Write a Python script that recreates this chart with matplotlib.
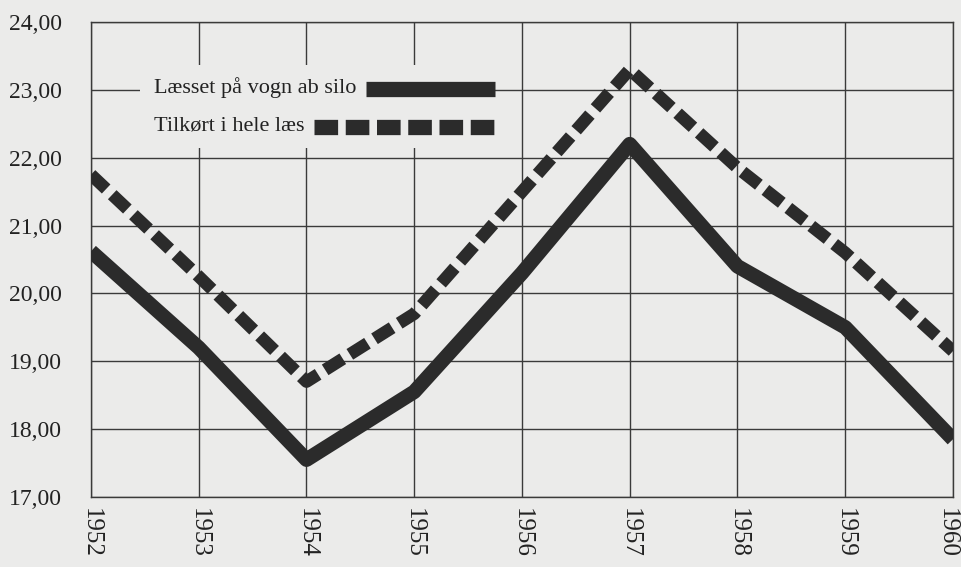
import matplotlib

matplotlib.use("Agg")
import matplotlib.pyplot as plt  # noqa: E402
from matplotlib.patches import Rectangle  # noqa: E402
from matplotlib.transforms import ScaledTranslation  # noqa: E402

# Price per unit, 1952-1960
years = [1952, 1953, 1954, 1955, 1956, 1957, 1958, 1959, 1960]
laesset_ab_silo = [20.62, 19.2, 17.55, 18.55, 20.3, 22.2, 20.4, 19.5, 17.85]
tilkoert_hele_laes = [21.75, 20.25, 18.7, 19.7, 21.5, 23.3, 21.85, 20.6, 19.15]
series_labels = ["Læsset på vogn ab silo", "Tilkørt i hele læs"]
y_ticks = [17, 18, 19, 20, 21, 22, 23, 24]

BG = "#ebebea"
INK = "#2b2b2b"
GRID = "#3a3a3a"

plt.rcParams["font.family"] = ["Liberation Serif", "DejaVu Serif"]
plt.rcParams["lines.scale_dashes"] = False

fig = plt.figure(figsize=(9.62, 5.67), dpi=100)
fig.patch.set_facecolor(BG)
ax = fig.add_axes([0.0946, 0.1235, 0.8960, 0.8377])
ax.set_facecolor(BG)

ax.set_xlim(years[0], years[-1])
ax.set_ylim(y_ticks[0], y_ticks[-1])
ax.set_xticks(years)
ax.set_xticklabels([str(y) for y in years], rotation=-90, fontsize=18, color="#222")
ax.set_yticks(y_ticks)
ax.set_yticklabels([f"{v:.2f}".replace(".", ",") for v in y_ticks], fontsize=17, color="#222")
ax.tick_params(axis="x", length=0, pad=8)
ax.tick_params(axis="y", length=0, pad=21)
ax.grid(True, color=GRID, linewidth=1.0)
ax.set_axisbelow(True)
for sp in ax.spines.values():
    sp.set_color(GRID)
    sp.set_linewidth(1.0)

# keep the last year label inside the figure
last = ax.get_xticklabels()[-1]
last.set_transform(last.get_transform() + ScaledTranslation(-6 / 100, 0, fig.dpi_scale_trans))

ax.plot(years, laesset_ab_silo, color=INK, linewidth=10.5,
        solid_joinstyle="round", solid_capstyle="butt", zorder=3)
ax.plot(years, tilkoert_hele_laes, color=INK, linewidth=9,
        dashes=(15, 6), dash_capstyle="butt", dash_joinstyle="round", zorder=3)

# legend panel sits over the grid in the upper left
ax.add_patch(Rectangle((0.057, 0.735), 0.355, 0.174, transform=ax.transAxes,
                       facecolor=BG, edgecolor="none", zorder=2.5))
ax.text(0.073, 0.861, series_labels[0], transform=ax.transAxes, fontsize=16,
        va="center", ha="left", color="#222", zorder=4)
ax.text(0.073, 0.781, series_labels[1], transform=ax.transAxes, fontsize=16,
        va="center", ha="left", color="#222", zorder=4)
ax.plot([0.319, 0.4687], [0.859, 0.859], transform=ax.transAxes, color=INK,
        linewidth=11, solid_capstyle="butt", zorder=4)
ax.plot([0.259, 0.4687], [0.779, 0.779], transform=ax.transAxes, color=INK,
        linewidth=11, dashes=(17, 5.5), dash_capstyle="butt", zorder=4)

fig.savefig("out.png", dpi=100, facecolor=fig.get_facecolor())
